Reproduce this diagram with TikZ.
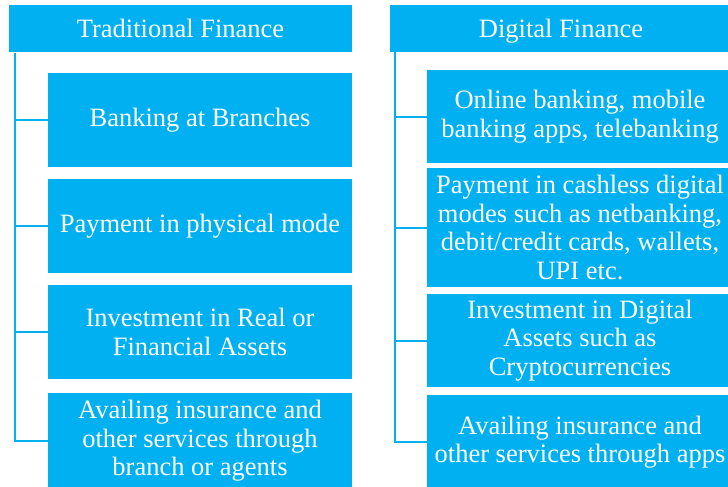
\documentclass[tikz,border=0pt]{standalone}
\usepackage{fontspec}
\setmainfont{Liberation Serif}
\definecolor{finblue}{HTML}{00B0F0}

\tikzset{
    head/.style={fill=finblue, text=white, inner sep=0pt, minimum height=47pt, text height=24pt, text depth=6pt, font=\fontsize{26.5}{28}\selectfont},
    item/.style={fill=finblue, text=white, inner sep=0pt, align=center, font=\fontsize{26.5}{28.5}\selectfont},
    link/.style={draw=finblue, line width=2pt},
}

\begin{document}
\begin{tikzpicture}[x=1pt,y=-1pt]
    \def\leftx{200}
    \def\rightx{580}
    \def\leftw{304pt}
    \def\rightw{306pt}

    \useasboundingbox (0,0) rectangle (728,487);
    \clip (0,0) rectangle (728,487);

    % Draw the two headers
    \node[head, minimum width=343pt] (trad) at (180.5,29) {Traditional Finance};
    \node[head, minimum width=342pt] (digi) at (561,28.5) {Digital Finance};

    % Traditional side
    \node[item, minimum width=\leftw, minimum height=94pt] (trad1) at (\leftx,120) {Banking at Branches};
    \node[item, minimum width=\leftw, minimum height=94pt] (trad2) at (\leftx,226) {Payment in physical mode};
    \node[item, minimum width=\leftw, minimum height=94pt] (trad3) at (\leftx,332) {Investment in Real or\\Financial Assets};
    \node[item, minimum width=\leftw, minimum height=96pt] (trad4) at (\leftx,441) {Availing insurance and\\other services through\\branch or agents};

    % Digital side
    \node[item, minimum width=\rightw, minimum height=93pt] (digi1) at (\rightx,116.5) {Online banking, mobile\\banking apps, telebanking};
    \node[item, minimum width=\rightw, minimum height=119pt] (digi2) at (\rightx,227.5) {Payment in cashless digital\\modes such as netbanking,\\debit/credit cards, wallets,\\UPI etc.};
    \node[item, minimum width=\rightw, minimum height=93pt] (digi3) at (\rightx,340.5) {Investment in Digital\\Assets such as\\Cryptocurrencies};
    \node[item, minimum width=\rightw, minimum height=94pt] (digi4) at (\rightx,442) {Availing insurance and\\other services through apps};

    % Connectors
    \coordinate (tradRoot) at ([xshift=6pt]trad.south west);
    \coordinate (digiRoot) at ([xshift=5pt]digi.south west);
    \draw[link] (tradRoot) |- (trad4.west);
    \draw[link] (digiRoot) |- (digi4.west);
    \foreach \i in {1,2,3} {
        \draw[link] (tradRoot |- trad\i.west) -- (trad\i.west);
        \draw[link] (digiRoot |- digi\i.west) -- (digi\i.west);
    }
\end{tikzpicture}
\end{document}
